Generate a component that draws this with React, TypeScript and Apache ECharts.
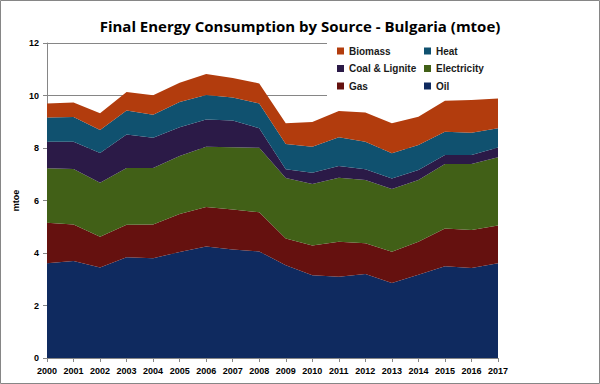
import React, { useEffect, useRef } from "react";
import * as echarts from "echarts";

const years = ["2000","2001","2002","2003","2004","2005","2006","2007","2008","2009","2010","2011","2012","2013","2014","2015","2016","2017"];
const oil = [3.61,3.70,3.45,3.84,3.80,4.04,4.25,4.13,4.06,3.53,3.15,3.10,3.20,2.86,3.17,3.50,3.43,3.61];
const gas = [1.54,1.39,1.17,1.24,1.29,1.45,1.50,1.53,1.49,1.02,1.14,1.33,1.17,1.19,1.26,1.43,1.45,1.44];
const electricity = [2.08,2.11,2.06,2.16,2.15,2.21,2.30,2.37,2.46,2.31,2.34,2.44,2.41,2.39,2.35,2.46,2.51,2.60];
const coal = [1.01,1.04,1.13,1.27,1.15,1.09,1.04,1.02,0.74,0.33,0.43,0.44,0.41,0.40,0.38,0.34,0.34,0.37];
const heat = [0.92,0.94,0.88,0.92,0.88,0.96,0.93,0.87,0.95,0.96,0.99,1.10,1.05,0.96,0.95,0.89,0.85,0.73];
const biomass = [0.54,0.55,0.63,0.70,0.74,0.74,0.80,0.75,0.76,0.79,0.94,1.00,1.11,1.14,1.08,1.18,1.25,1.14];

const seriesDefs = [
  { name: "Oil", data: oil, color: "#0f2a5f" },
  { name: "Gas", data: gas, color: "#65110f" },
  { name: "Electricity", data: electricity, color: "#416017" },
  { name: "Coal & Lignite", data: coal, color: "#2b1a47" },
  { name: "Heat", data: heat, color: "#10516f" },
  { name: "Biomass", data: biomass, color: "#b23c0d" },
];

const FONT = "'Liberation Sans', Arial, sans-serif";

export default function App() {
  const ref = useRef<HTMLDivElement>(null);
  useEffect(() => {
    if (!ref.current) return;
    const chart = echarts.init(ref.current, null, { renderer: "svg" });
    const legendText = { fontFamily: FONT, fontWeight: "bold", fontSize: 10, color: "#1a1a1a" };
    chart.setOption({
      animation: false,
      backgroundColor: "#ffffff",
      title: {
        text: "Final Energy Consumption by Source - Bulgaria (mtoe)",
        left: "center",
        top: 13,
        textStyle: { fontFamily: "'Open Sans', sans-serif", fontWeight: "bold", fontSize: 15, color: "#000" },
      },
      grid: { left: 47, right: 102, top: 43, bottom: 26 },
      legend: [
        {
          data: ["Biomass", "Coal & Lignite", "Gas"],
          orient: "vertical", left: 337, top: 46, padding: 0, itemGap: 7.5,
          icon: "rect", itemWidth: 7, itemHeight: 7, z: 200, textStyle: legendText,
          selectedMode: false,
        },
        {
          data: ["Heat", "Electricity", "Oil"],
          orient: "vertical", left: 424, top: 46, padding: 0, itemGap: 7.5,
          icon: "rect", itemWidth: 7, itemHeight: 7, z: 200, textStyle: legendText,
          selectedMode: false,
        },
      ],
      graphic: [
        { type: "rect", shape: { x: 327, y: 40, width: 200, height: 56 }, style: { fill: "#ffffff" }, z: 150 },
        { type: "rect", shape: { x: 0.5, y: 0.5, width: 599, height: 383 }, style: { fill: "none", stroke: "#868686", lineWidth: 1 }, z: 300 },
      ],
      xAxis: {
        type: "category",
        data: years,
        boundaryGap: false,
        axisLine: { lineStyle: { color: "#868686" } },
        axisTick: { show: true, alignWithLabel: true, length: 4, lineStyle: { color: "#868686" } },
        axisLabel: { fontFamily: FONT, fontWeight: "bold", fontSize: 9, color: "#000", margin: 8, interval: 0 },
      },
      yAxis: {
        type: "value",
        min: 0, max: 12, interval: 2,
        name: "mtoe",
        nameLocation: "middle",
        nameGap: 27,
        nameRotate: 90,
        nameMoveOverlap: false,
        nameTextStyle: { fontFamily: FONT, fontWeight: "bold", fontSize: 9, color: "#000" },
        axisLine: { show: true, lineStyle: { color: "#868686" } },
        axisTick: { show: true, length: 4, lineStyle: { color: "#868686" } },
        splitLine: { show: true, lineStyle: { color: "#868686", width: 1 } },
        axisLabel: { fontFamily: FONT, fontWeight: "bold", fontSize: 9, color: "#000", margin: 8 },
      },
      series: seriesDefs.map((s) => ({
        name: s.name,
        type: "line",
        stack: "total",
        data: s.data,
        symbol: "none",
        lineStyle: { width: 0 },
        areaStyle: { color: s.color, opacity: 1 },
        itemStyle: { color: s.color },
      })),
    });
    return () => chart.dispose();
  }, []);
  return <div ref={ref} style={{ position: "fixed", left: 0, top: 0, width: 600, height: 384 }} />;
}
